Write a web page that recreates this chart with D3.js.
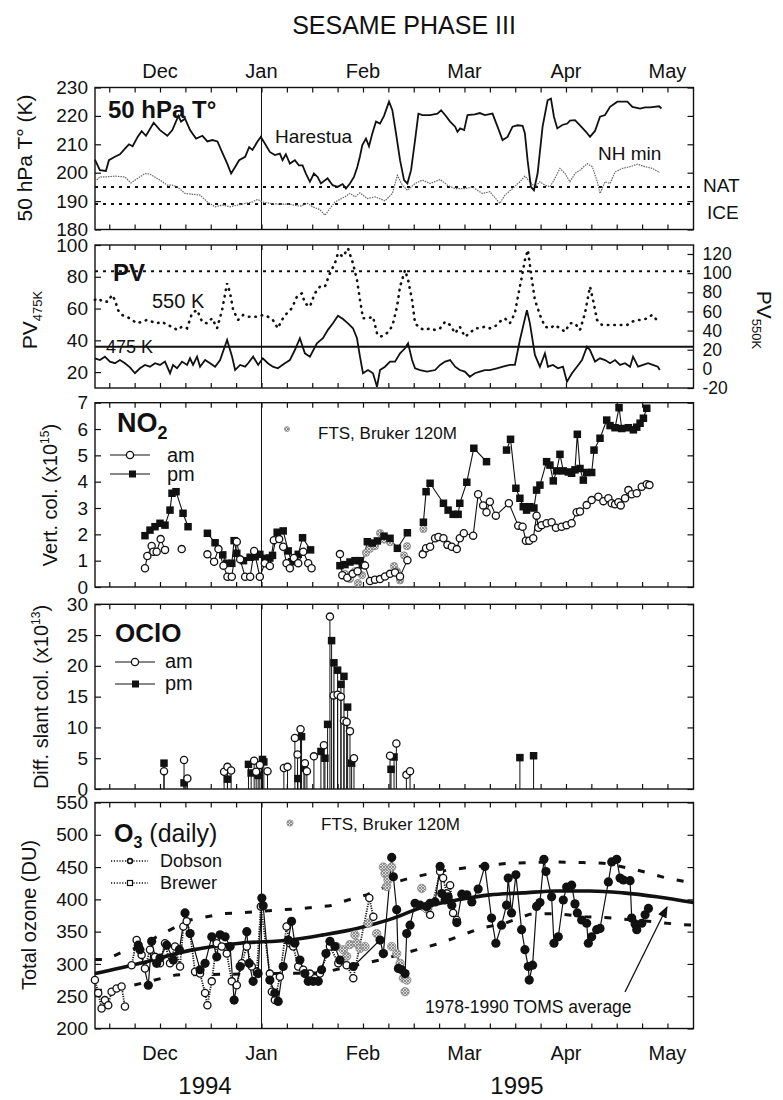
<!DOCTYPE html>
<html>
<head>
<meta charset="utf-8">
<script src="https://cdn.jsdelivr.net/npm/d3@7"></script>
<style>
body { margin: 0; background: #fff; }
svg text { font-family: "Liberation Sans", Arial, Helvetica, sans-serif; fill: #111; }
</style>
</head>
<body>
<svg id="chart" width="783" height="1100"></svg>
<script>

// x values are days counted from 1 Dec 1994 (months drawn evenly, 30.4 days each)
const months = ['Dec', 'Jan', 'Feb', 'Mar', 'Apr', 'May'];
const monthStarts = [0, 30.4, 60.8, 91.2, 121.6, 152];

//50 hPa temperature
const harestua = [[-19.5,204.6],[-18.0,200.9],[-16.2,200.6],[-15.3,204.4],[-13.5,205.6],[-12.0,206.5],[-10.5,208.5],[-9.3,210],[-8.2,209.3],[-6.7,212.6],[-5.5,214.6],[-4.2,213],[-1.9,217.6],[0,215],[2.2,213],[3.7,215],[5.5,220],[6.3,218],[7.5,219],[9.0,215],[10.8,212],[12.7,213],[14.2,211],[15.7,211.5],[17.2,211],[18.7,207],[20.2,203],[21.3,199.7],[22.5,202],[23.7,204.4],[25.5,205.6],[26.7,209],[27.7,208],[29.2,211],[30.2,212.6],[31.4,210.3],[32.9,207.3],[34.4,206.2],[35.9,206.7],[36.7,204.4],[37.7,206.5],[38.9,203.2],[40.4,204.4],[41.6,202.6],[42.7,202.6],[43.7,199.7],[44.9,196.8],[46.1,199.7],[47.2,198.5],[48.2,196.2],[50.2,198],[51.7,195.6],[53.2,195],[54.7,196],[55.7,194.4],[56.9,196.2],[58.1,198.5],[59.1,202],[59.9,205.8],[60.6,209.7],[61.7,212],[62.6,209.3],[63.6,213.8],[64.7,218],[65.9,217.3],[67.1,220],[68.6,225],[69.6,222],[70.7,213.8],[71.9,204.4],[73.1,197.4],[74.1,196.2],[75.2,200.9],[76.4,211.5],[77.4,220.8],[78.6,220.3],[80.9,220.3],[83.1,220.8],[84.2,222],[85.4,220.3],[86.9,218],[88.4,216.2],[89.1,214.4],[89.9,215.6],[91.1,215],[92.1,220.3],[94.3,220.5],[95.8,221],[97.3,220.3],[99.6,220.8],[101.1,216.2],[102.6,211.5],[104.1,212.6],[105.6,216.2],[107.1,216.7],[108.6,216.5],[109.3,213.8],[110.1,204.4],[111.1,195],[112.0,193.8],[113.1,199.7],[114.6,216.2],[116.1,225.5],[117.1,226.1],[118.0,219.7],[119.0,215.6],[120.5,216.8],[122.0,217.3],[122.8,218.3],[124.3,218.5],[125.8,216.7],[127.6,214.4],[128.8,212.6],[130.3,214.7],[131.8,219.7],[133.3,220.3],[134.8,223.2],[137.0,225],[140.0,225],[141.5,223.2],[143.8,222.6],[145.3,223],[146.8,223],[149.5,223.4],[150.2,222.6]];
const nhMin = [[-19.5,196.8],[-18,198.5],[-16.5,198.5],[-13.5,198.8],[-10.5,198.5],[-8.7,196.4],[-6.7,198],[-4.5,199.7],[-3,199.5],[0,197.4],[2.2,195.6],[3.7,195.6],[5.2,195],[7.5,192.7],[9.7,192.4],[12,192.1],[14.2,189.7],[16.5,188],[18.7,188.6],[21,188],[23.2,188.6],[25.5,189.2],[27.7,189.7],[29.2,190.6],[30.7,189.7],[32.9,189.2],[35.9,188.9],[38.9,188.9],[41.9,188.2],[44.2,189.2],[45.7,188],[47.9,187],[49.4,185],[50.9,187.4],[52.4,189.7],[53.9,190.6],[55.4,191.5],[56.9,192.7],[58.4,191.5],[59.9,192.9],[62.1,190.9],[64.4,191.5],[67.4,190.1],[69.6,192.7],[71.1,199.1],[72.6,195.6],[74.1,193.8],[76.4,196.2],[78.6,197.4],[80.9,196.2],[83.9,197.6],[86.1,195.6],[88.4,194.4],[91.3,194.4],[93.6,195],[95.1,193.8],[96.6,192.7],[98.8,193.3],[101.8,189.2],[103.3,192.1],[105.6,194.4],[107.8,196.8],[109.3,198.8],[110.8,196.8],[112.3,195],[113.8,196.8],[115.3,195.6],[116.8,195],[118.3,198],[119.8,201.5],[121.3,199.7],[122.8,196.8],[124.3,199.7],[125.8,200.9],[128,203.2],[129.5,202.1],[131,196.8],[131.8,192.7],[133.3,196.8],[134.8,196.2],[136.3,200.3],[138.5,201.5],[140.8,202.1],[143,203],[145.3,202.1],[147.5,201.5],[149.7,200]];
const natT = 195;
const iceT = 189;

//PV
const pv475 = [[-19.5,28.7],[-18,27.6],[-16.5,29.7],[-15,26.6],[-13.5,25.6],[-12,27.6],[-10.5,25.6],[-9,23],[-7.5,19.3],[-6,22.4],[-4.5,24.5],[-3,23.4],[-1.5,25.6],[0,24.5],[1.5,26.6],[3,19.3],[3.9,24.5],[5.1,22.4],[6.6,26.6],[8.1,24.5],[9,28.7],[9.9,24.5],[11.1,29.7],[12,23.4],[13.5,27.6],[15,25.6],[16.5,23.4],[18,27.6],[20.1,40.2],[21.6,29.7],[22.5,21.3],[24,24.5],[25.5,23.4],[26.4,25.6],[27.9,29.7],[29.4,24.5],[30.8,28.7],[32.3,25.6],[33.8,23.4],[35.3,22.4],[37.4,25.6],[38.9,27.6],[40.4,33.9],[41.9,41.3],[43.4,31.8],[44.9,29.7],[47,38.1],[48.8,41.3],[50.3,46.6],[51.8,50.8],[53.3,55.5],[54.8,53.4],[56.3,50.7],[57.8,47.6],[59,41.3],[59.9,29.7],[60.8,19.3],[62.3,21.3],[63.8,19.3],[65,10.8],[65.9,21.3],[67.4,23.4],[68.9,26.6],[70.4,26.6],[71.9,31.8],[73.4,35],[74.3,38.1],[75.5,27.6],[76.4,22.4],[77.9,21.3],[80,20.3],[82.4,21.3],[83.9,24.5],[85.4,26.6],[86.9,27.6],[88.4,23.4],[89.8,21.3],[91.3,20.3],[92.8,17.1],[94.3,19.3],[95.8,20.3],[97.3,21.3],[98.8,21.3],[100.9,22.4],[102.7,23.4],[104.8,24.5],[106.3,24.5],[107.8,40.2],[109.9,59],[110.8,50.7],[112.3,30.8],[113.8,23.4],[115.3,31.8],[116.2,23.4],[117.7,24.5],[119.2,22.4],[120.7,23.4],[121.9,14],[123.4,19.3],[124.9,23.4],[126.4,27.6],[127.9,36],[128.8,33.9],[130.3,26.6],[131.8,28.7],[133.3,27.6],[134.8,25.6],[136.3,27.6],[137.8,24.5],[139.3,25.6],[140.8,23.4],[141.7,29.7],[143.2,23.4],[144.7,24.5],[146.2,25.6],[147.6,24.5],[149.1,23.4],[149.7,21.3]];
const pv550 = [[-19.5,72],[-18.6,73.7],[-17.1,70.2],[-15.6,70.2],[-14.4,77.2],[-13.5,72],[-12.6,61.5],[-11.4,56.3],[-9.9,54.5],[-8.4,51.1],[-6.9,47.6],[-5.4,49.3],[-3.9,51.1],[-2.4,49.3],[-0.9,47.6],[0.6,49.3],[2.1,45.8],[3.6,44.1],[5.1,40.6],[6.6,44.1],[8.1,42.4],[9.6,58.1],[11.1,61.5],[12.6,49.3],[14.1,47.6],[15.6,52.8],[17.1,42.4],[18.6,61.5],[20.1,89.4],[21,79],[21.9,61.5],[23.4,51.1],[24.9,56.3],[26.4,54.5],[27.9,54.5],[29.4,54.5],[30.8,56.3],[32.3,54.5],[33.8,51.1],[35.3,42.4],[36.5,51.1],[38,58.1],[39.5,63.3],[41,75.4],[42.5,79],[43.4,68.5],[44.9,65],[46.4,79],[47.9,85.9],[49.4,85.9],[50.9,99.9],[52.4,110.3],[53.3,120.8],[54.8,117.2],[56.3,126],[57.8,110.3],[59,92.9],[59.9,72],[60.8,52.8],[62.3,52.8],[63.8,54.5],[65,37.2],[65.9,33.6],[67.4,35.4],[68.9,40.6],[69.8,47.6],[71,65],[71.9,85.9],[73.4,103.3],[74.3,92.9],[75.5,72],[76.4,47.6],[77.9,42.4],[79.4,40.6],[80.9,42.4],[82.4,40.6],[83.9,42.4],[85.4,49.3],[86.9,45.8],[88.4,37.2],[89.8,44.1],[91.3,33.6],[92.8,37.2],[94.3,42.4],[95.8,42.4],[97.3,44.1],[98.8,42.4],[100.3,44.1],[101.8,49.3],[103.3,52.8],[104.8,47.6],[106.3,58.1],[107.2,75.4],[108.4,96.3],[109.3,113.8],[110.2,124.2],[111.4,92.9],[112.3,72],[113.8,56.3],[115.3,44.1],[116.8,42.4],[118.3,45.8],[119.8,42.4],[121.3,38.8],[122.8,47.6],[124.3,47.6],[125.8,40.6],[127.3,58.1],[128.8,85.9],[129.7,72],[130.9,51.1],[132.4,45.8],[133.9,45.8],[135.4,45.8],[136.9,45.8],[138.4,45.8],[139.9,45.8],[141.4,49.3],[142.9,51.1],[144.4,51.1],[145.9,52.8],[147.4,56.3],[148.8,51.1]];
const pv475Ref = 36;
const pv550Ref = 102;

//NO2 vertical column (x1e15), null = gap
const no2Am = [[-4.5,0.71],[-3.8,1.18],[-2.5,1.56],[-2.0,1.34],[-1.0,1.34],[0.2,1.82],[1.5,1.41],null,[6.5,1.44],null,[14.2,1.24],[16.2,0.96],[17.5,1.44],[19.0,0.81],[20.2,0.39],[21.5,0.39],[23.0,1.72],[24.0,1.05],[25.5,0.39],[27.0,0.39],[28.2,1.37],[29.9,0.39],[31.4,0.9],[32.9,0.8],[34.1,1.78],[35.7,1.82],[36.9,1.53],[37.9,0.9],[38.9,0.71],[40.1,1.1],[41.4,0.9],[42.9,1.34],[44.4,0.9],[45.4,0.71],null,[53.9,1.25],[54.6,0.45],[56.1,0.35],[57.7,0.5],[59.2,0.6],[61.4,0.82],[62.9,0.23],[64.4,0.28],[65.9,0.3],[67.4,0.4],[68.9,0.5],[70.4,0.55],[71.9,0.4],[74.1,1.02],null,[78.7,1.24],[79.7,1.47],[80.9,1.53],[82.4,1.85],[83.4,1.9],[84.9,1.85],[86.1,1.6],[87.4,1.53],[88.9,1.44],[89.8,1.85],[91.0,2.04],[93.8,1.95],[95.3,3.52],[96.8,3.1],[97.8,2.84],[98.8,3.24],[100.6,2.71],[104.5,3.18],[107.3,2.33],[108.6,2.29],[109.6,1.76],[110.6,1.76],[111.8,1.85],[112.8,2.71],[113.3,2.25],[114.3,2.35],[115.8,2.42],[117.3,2.46],[118.6,2.25],[120.3,2.29],[121.8,2.35],[123.3,2.42],[124.8,2.84],[125.8,2.87],[127.8,3.11],[129.3,3.3],[131.3,3.43],[132.8,3.26],[134.3,3.37],[135.3,3.18],[136.3,3.14],[137.3,3.22],[138.0,3.1],[139.3,3.37],[140.3,3.68],[141.3,3.52],[142.8,3.56],[144.3,3.81],[145.8,3.9],[146.6,3.87]];
const no2Pm = [[-4.5,1.95],[-3.0,2.16],[-1.5,2.29],[0,2.42],[1.5,2.35],[3.0,2.92],[3.6,3.56],[4.8,3.62],[6.9,2.8],[8.4,2.29],null,[14.2,2.04],[16.5,1.68],[18.8,1.22],[20.0,0.9],[21.5,0.9],[22.2,1.76],[23.0,1.28],[25.0,1.0],[27.0,1.13],[28.5,1.15],[29.9,1.24],[31.4,1.09],[32.9,1.1],[33.7,1.2],[35.1,2.08],[36.9,2.13],[38.4,1.37],[39.4,0.96],[40.4,1.1],[41.4,1.24],[42.7,1.87],[45.1,1.41],null,[53.9,0.81],[55.4,0.85],[56.9,0.95],[58.4,1.0],[59.9,1.0],[60.6,0.85],[62.1,1.72],[63.6,1.67],[65.1,1.75],[67.1,1.93],[68.9,1.85],[71.1,1.47],[74.1,2.06],null,[78.9,2.46],[79.7,3.62],[80.9,3.94],[84.9,3.18],[86.3,2.92],[87.8,2.76],[89.3,2.76],[89.8,3.18],[91.9,3.98],[94.0,5.27],[97.8,4.76],null,[103.8,5.2],[105.0,5.61],[106.6,3.75],[107.8,3.37],[108.8,3.05],[109.8,2.92],[110.8,3.05],[112.0,3.0],[112.8,3.68],[113.8,3.87],[115.8,4.76],[116.8,4.63],[117.8,4.03],[118.8,4.41],[119.8,5.04],[120.8,4.41],[122.3,4.37],[123.3,4.32],[124.3,4.45],[125.0,5.8],[125.8,4.5],[126.8,4.06],[127.8,4.35],[129.3,4.35],[130.0,5.2],[131.8,5.65],[133.8,6.34],[134.8,6.13],[136.3,6.05],[137.5,6.81],[138.3,6.02],[140.3,6.05],[141.8,5.97],[142.8,6.07],[143.8,6.22],[144.8,6.41],[145.8,6.79]];
const no2Fts = [[55.4,0.5],[56.9,0.3],[58.4,0.6],[59.3,0.15],[60.5,0.45],[61.7,1.3],[62.9,1.45],[64.4,1.55],[65.9,2.05],[67.1,1.8],[68.9,1.7],[70.1,0.8],[71.0,0.6],[71.9,0.25],[73.1,1.2],[74.0,1.55],[78.9,2.2],[78.9,1.3]];

//OClO differential slant column (x1e13)
const ocloAm = [[1.2,2.9],[7.2,4.7],[8.2,1.7],[19.2,2.8],[20.2,3.6],[21.3,3.0],[28.2,4.6],[28.8,2.8],[29.9,3.9],[32.2,2.9],[37.1,3.4],[38.2,3.6],[40.4,8.3],[41.2,5.6],[42.1,9.7],[43.4,4.2],[44.0,2.9],[46.1,5.3],[49.1,7.1],[50.9,28.0],[52.0,15.2],[53.2,15.3],[54.2,15.0],[55.1,11.1],[55.9,10.9],[56.9,9.4],[58.1,5.0],[68.9,5.4],[70.8,7.4],[73.8,2.3],[74.9,2.9]];
const ocloPm = [[1.2,4.2],[7.2,1.0],[20.2,1.6],[26.5,4.0],[27.3,2.6],[29.4,2.2],[30.7,4.8],[31.1,4.4],[41.3,1.7],[42.4,8.5],[43.1,3.4],[48.2,6.1],[49.4,5.0],[50.2,10.5],[51.4,24.1],[52.1,20.5],[53.2,19.3],[54.2,17.0],[55.1,18.3],[56.2,13.3],[57.4,4.2],[69.2,3.2],[70.1,5.2],[107.8,5.1],[111.9,5.4]];

//Total ozone (DU)
const o3Dobson = [[-6.5,329],[-6.0,322],[-3.5,267],[-2.5,335],[-1.0,301],[0,309],[2.0,329],[4.0,306],[5.8,322],[7.5,379],[9.0,347],[12.0,291],[13.5,301],[15.5,342],[17.0,311],[18.0,345],[19.5,342],[21.0,327],[22.2,244],[24.0,296],[26.0,350],[26.7,301],[27.9,273],[29.4,285],[30.5,402],[30.9,390],[32.9,275],[34.4,255],[35.4,242],[36.9,296],[38.4,337],[39.4,366],[40.4,332],[41.9,306],[43.4,285],[44.4,273],[45.9,273],[47.4,273],[48.4,291],[49.7,316],[50.9,335],[52.4,327],[53.9,306],[57.9,296],[65.9,337],[66.9,316],[69.4,465],[69.9,435],[70.9,384],[71.4,293],[72.4,291],[73.4,285],[73.9,347],[74.9,360],[76.4,394],[77.9,391],[79.9,389],[80.9,394],[82.4,396],[83.9,451],[84.4,409],[85.4,399],[86.3,404],[87.4,391],[88.9,364],[90.4,408],[91.9,407],[93.4,396],[95.3,416],[97.3,451],[99.3,371],[100.6,332],[102.3,360],[103.8,391],[104.3,433],[105.3,379],[106.6,438],[108.3,353],[109.3,322],[110.3,296],[110.6,275],[111.6,298],[112.8,389],[113.8,395],[115.0,462],[115.6,443],[117.3,404],[118.0,332],[119.3,342],[120.8,399],[121.8,419],[123.3,422],[124.3,393],[125.0,379],[126.3,368],[127.8,363],[128.3,332],[129.3,342],[130.8,353],[131.8,355],[134.3,427],[135.3,458],[136.8,462],[137.8,433],[138.8,430],[140.8,429],[141.3,371],[142.3,362],[142.8,353],[144.3,363],[145.3,376],[146.3,386]];
const o3Brewer = [[-19.5,275],[-18.5,255],[-17.5,231],[-16.5,244],[-15.5,236],[-14.5,257],[-13.0,262],[-11.5,265],[-10.5,234],null,[-8.5,298],[-7.0,337],[-5.5,314],[-4.5,293],[-3.0,322],[-1.5,311],[0,301],[1.5,332],[3.0,301],[4.5,327],[6.0,296],[7.0,358],[8.0,366],[9.0,347],[10.5,288],[12.0,285],[13.5,255],[14.2,236],[15.5,273],[17.0,332],[18.5,327],[20.0,316],[21.5,273],[23.0,267],[24.5,301],[26.0,327],[27.5,296],[29.0,288],[30.2,389],[32.9,285],[33.5,257],[34.4,244],[35.9,280],[37.9,358],[38.9,332],[39.9,327],[41.4,296],[42.9,291],[44.9,285],[46.4,278],[47.9,285],[50.9,327],[53.4,301],[55.9,298],[57.9,278],[62.7,402],[63.9,373],null,[79.9,389],[80.9,376],[83.9,443],[84.8,433],[85.9,409],[86.9,422],[87.8,379],[88.9,368]];
const o3Fts = [[52.9,327],[54.9,322],[55.9,312],[56.9,330],[58.4,345],[58.9,332],[59.9,324],[61.4,327],[62.4,363],[64.9,347],[66.9,316],[66.9,450],[67.4,440],[67.9,420],[68.3,430],[69.4,450],[69.4,327],[70.9,316],[71.9,301],[72.9,278],[73.4,257],[73.9,275],[78.4,417],[78.9,389],[79.9,385]];
const tomsAvg = [[-19.5,285],[-6.0,301],[9.0,321],[24.0,332],[38.9,337],[48.8,345],[59.0,355],[68.9,369],[78.8,388],[88.9,399],[98.8,407],[108.7,410],[118.9,413],[128.8,413],[138.7,410],[148.8,404],[159.8,395]];
const tomsHigh = [[-19.5,307],[-16,307],[-11.1,319],[-6.0,326],[-1.0,342],[3.9,355],[9.0,368],[14.0,373],[18.9,378],[24.0,379],[29.0,381],[35.0,383.5],[40.9,385],[50.9,390],[56.3,399],[61.9,407],[70.9,427],[74.9,433],[80.9,440],[86.3,445.5],[91.9,449],[98.8,453],[104.8,456],[110.8,457],[118.8,458],[126.7,457],[132.8,456],[140.8,448],[146.2,441],[151.7,433],[159.8,425]];
const tomsLow = [[-19.5,259],[-13.5,260],[4.8,283],[48.5,286],[55,294],[65.9,306],[74.9,319],[83.9,332],[95.8,355],[103.3,363],[110.8,377],[118.3,378],[127.3,373],[133.3,372],[145.3,366.5],[155.8,361],[159.8,360]];


const FONT = '"Liberation Sans", Arial, Helvetica, sans-serif';
const svg = d3.select('#chart');

const left = 95;
const right = 693.5;
const x = d3.scaleLinear().domain([-19.47, 159.8]).range([left, right]);
const xTicks = d3.range(-15.2, 158, 7.6);
const janDay = monthStarts[1];

//Scales
const yT = d3.scaleLinear().domain([180, 230]).range([229.5, 87.5]);
const yPV = d3.scaleLinear().domain([10, 100]).range([388, 245]);
const yPV550 = d3.scaleLinear().domain([-20, 129.4]).range([388, 245]);
const yNO2 = d3.scaleLinear().domain([0, 7]).range([587, 402.7]);
const yOClO = d3.scaleLinear().domain([0, 30]).range([789, 604.3]);
const yO3 = d3.scaleLinear().domain([200, 550]).range([1028.5, 802.5]);

const fmt = d => String(d);

const drawPanel = (y, leftTicks, rightScale, rightTicks, rightLabels) => {
    const top = y.range()[1];
    const bottom = y.range()[0];
    const g = svg.append('g');

    g.append('g').attr('transform', `translate(0,${top})`)
        .call(d3.axisBottom(x).tickValues(xTicks).tickSize(5).tickFormat(''));
    g.append('g').attr('transform', `translate(0,${bottom})`)
        .call(d3.axisTop(x).tickValues(xTicks).tickSize(5).tickFormat(''));
    g.append('g').attr('transform', `translate(${left},0)`)
        .attr('font-size', 19)
        .call(d3.axisLeft(y).tickValues(leftTicks).tickSizeInner(-6).tickSizeOuter(0).tickPadding(7).tickFormat(fmt))
        .attr('font-size', 19);
    g.append('g').attr('transform', `translate(${right},0)`)
        .call(d3.axisRight(rightScale || y).tickValues(rightTicks || leftTicks)
            .tickSizeInner(-6).tickSizeOuter(0).tickPadding(9).tickFormat(rightLabels ? fmt : ''))
        .attr('font-size', 17.5);

    g.selectAll('.domain').remove();
    g.selectAll('.tick line').attr('stroke', '#111').attr('stroke-width', 1.2);
    g.selectAll('g').attr('font-family', FONT);
    g.selectAll('.tick text').attr('fill', '#111');

    g.append('line')
        .attr('x1', x(janDay)).attr('x2', x(janDay))
        .attr('y1', top).attr('y2', bottom)
        .attr('stroke', '#111').attr('stroke-width', 1);

    g.append('rect')
        .attr('x', left).attr('y', top)
        .attr('width', right - left).attr('height', bottom - top)
        .attr('fill', 'none').attr('stroke', '#111').attr('stroke-width', 1.4);
    return g;
};

const lineGen = y => d3.line().defined(d => d !== null).x(d => x(d[0])).y(d => y(d[1]));

const addText = (txt, px, py, size, opts = {}) => {
    const t = svg.append('text')
        .attr('x', px).attr('y', py)
        .attr('font-size', size)
        .attr('text-anchor', opts.anchor || 'start')
        .attr('font-weight', opts.bold ? 'bold' : null)
        .attr('fill', opts.color || '#111')
        .text(txt);
    if (opts.rotate) t.attr('transform', `rotate(${opts.rotate},${px},${py})`);
    return t;
};

const hline = (y, val, dash, width) => {
    svg.append('line')
        .attr('x1', left).attr('x2', right)
        .attr('y1', y(val)).attr('y2', y(val))
        .attr('stroke', '#111').attr('stroke-width', width)
        .attr('stroke-dasharray', dash);
};

const openCircles = (data, y, r) => {
    svg.append('g').selectAll('circle').data(data.filter(d => d !== null)).enter().append('circle')
        .attr('cx', d => x(d[0])).attr('cy', d => y(d[1])).attr('r', r)
        .attr('fill', '#fff').attr('stroke', '#111').attr('stroke-width', 1.3);
};
const filledSquares = (data, y, s) => {
    svg.append('g').selectAll('rect').data(data.filter(d => d !== null)).enter().append('rect')
        .attr('x', d => x(d[0]) - s / 2).attr('y', d => y(d[1]) - s / 2)
        .attr('width', s).attr('height', s).attr('fill', '#111');
};
const ftsMarks = (data, y, r) => {
    svg.append('g').selectAll('circle').data(data).enter().append('circle')
        .attr('cx', d => x(d[0])).attr('cy', d => y(d[1])).attr('r', r)
        .attr('fill', 'url(#hatch)').attr('stroke', '#888').attr('stroke-width', 0.8);
};

//hatch pattern for the FTS points
const defs = svg.append('defs');
const pat = defs.append('pattern').attr('id', 'hatch')
    .attr('patternUnits', 'userSpaceOnUse').attr('width', 3).attr('height', 3);
pat.append('rect').attr('width', 3).attr('height', 3).attr('fill', '#ddd');
pat.append('path').attr('d', 'M0,3 L3,0 M0,0 L3,3').attr('stroke', '#777').attr('stroke-width', 0.8);
defs.append('marker').attr('id', 'arrow').attr('viewBox', '0 0 10 10')
    .attr('refX', 9).attr('refY', 5).attr('markerWidth', 9).attr('markerHeight', 9)
    .attr('orient', 'auto-start-reverse')
    .append('path').attr('d', 'M0,1 L10,5 L0,9 z').attr('fill', '#111');


//Title and month labels
addText('SESAME PHASE III', 404, 34, 25, { anchor: 'middle' });
months.forEach((m, i) => {
    addText(m, x(monthStarts[i]), 78, 20, { anchor: 'middle' });
    addText(m, x(monthStarts[i]), 1060, 20, { anchor: 'middle' });
});
addText('1994', 205, 1094, 24, { anchor: 'middle' });
addText('1995', 517, 1094, 24, { anchor: 'middle' });


//Panel 1: temperature
drawPanel(yT, d3.range(180, 231, 10));
hline(yT, natT, '3,5', 2);
hline(yT, iceT, '3,5', 2);
svg.append('path').datum(nhMin).attr('d', lineGen(yT))
    .attr('fill', 'none').attr('stroke', '#666').attr('stroke-width', 1.2).attr('stroke-dasharray', '1.5,1');
svg.append('path').datum(harestua).attr('d', lineGen(yT))
    .attr('fill', 'none').attr('stroke', '#111').attr('stroke-width', 1.8);
addText('50 hPa T°', 108, 118, 24, { bold: true });
addText('Harestua', 275, 143, 19);
addText('NH min', 598, 160, 19, { color: '#8a8a8a' });
addText('NAT', 703, 192, 19);
addText('ICE', 707, 219, 19);
addText('50 hPa T° (K)', 32, 158, 21, { anchor: 'middle', rotate: -90 });


//Panel 2: PV
drawPanel(yPV, [20, 40, 60, 80, 100], yPV550, d3.range(-20, 121, 20), true);
hline(yPV550, pv550Ref, '3,5', 2);
hline(yPV, pv475Ref, null, 2);
svg.append('path').datum(pv550).attr('d', lineGen(yPV550))
    .attr('fill', 'none').attr('stroke', '#111').attr('stroke-width', 2.6)
    .attr('stroke-linecap', 'round').attr('stroke-dasharray', '0.5,6');
svg.append('path').datum(pv475).attr('d', lineGen(yPV))
    .attr('fill', 'none').attr('stroke', '#111').attr('stroke-width', 1.8);
addText('PV', 113, 281, 24, { bold: true });
addText('550 K', 152, 308, 20);
addText('475 K', 106, 353, 18);
const pvl = addText('PV', 37, 320, 21, { anchor: 'middle', rotate: -90 });
pvl.append('tspan').attr('font-size', 13).attr('dy', 5).text('475K');
const pvr = addText('PV', 757, 320, 21, { anchor: 'middle', rotate: 90 });
pvr.append('tspan').attr('font-size', 13).attr('dy', 5).text('550K');


//Panel 3: NO2
drawPanel(yNO2, d3.range(0, 8, 1));
svg.append('path').datum(no2Am).attr('d', lineGen(yNO2))
    .attr('fill', 'none').attr('stroke', '#111').attr('stroke-width', 1.1);
svg.append('path').datum(no2Pm).attr('d', lineGen(yNO2))
    .attr('fill', 'none').attr('stroke', '#111').attr('stroke-width', 1.1);
ftsMarks(no2Fts, yNO2, 3.6);
filledSquares(no2Pm, yNO2, 7.5);
openCircles(no2Am, yNO2, 3.6);
const no2t = addText('NO', 117, 432, 27, { bold: true });
no2t.append('tspan').attr('font-size', 18).attr('dy', 7).text('2');
addText('am', 167, 462, 20);
addText('pm', 167, 481, 20);
svg.append('line').attr('x1', 110).attr('x2', 150).attr('y1', 455).attr('y2', 455).attr('stroke', '#111');
svg.append('line').attr('x1', 110).attr('x2', 150).attr('y1', 474).attr('y2', 474).attr('stroke', '#111');
svg.append('circle').attr('cx', 130).attr('cy', 455).attr('r', 3.6).attr('fill', '#fff').attr('stroke', '#111').attr('stroke-width', 1.3);
svg.append('rect').attr('x', 129).attr('y', 470.5).attr('width', 7).attr('height', 7).attr('fill', '#111');
svg.append('circle').attr('cx', 287).attr('cy', 429).attr('r', 2.6).attr('fill', 'url(#hatch)').attr('stroke', '#888').attr('stroke-width', 0.6);
addText('FTS, Bruker 120M', 318, 439, 17);
const no2y = addText('Vert. col. (x10', 57, 495, 20, { anchor: 'middle', rotate: -90 });
no2y.append('tspan').attr('font-size', 12).attr('dy', -8).text('15');
no2y.append('tspan').attr('dy', 8).text(')');


//Panel 4: OClO
drawPanel(yOClO, d3.range(0, 31, 5));
svg.append('g').selectAll('line').data(ocloAm.concat(ocloPm)).enter().append('line')
    .attr('x1', d => x(d[0])).attr('x2', d => x(d[0]))
    .attr('y1', yOClO(0)).attr('y2', d => yOClO(d[1]))
    .attr('stroke', '#111').attr('stroke-width', 1);
filledSquares(ocloPm, yOClO, 7.5);
openCircles(ocloAm, yOClO, 3.6);
addText('OClO', 115, 642, 26, { bold: true });
addText('am', 165, 668, 20);
addText('pm', 165, 690, 20);
svg.append('line').attr('x1', 115).attr('x2', 155).attr('y1', 662).attr('y2', 662).attr('stroke', '#111');
svg.append('line').attr('x1', 115).attr('x2', 155).attr('y1', 684).attr('y2', 684).attr('stroke', '#111');
svg.append('circle').attr('cx', 135).attr('cy', 662).attr('r', 3.6).attr('fill', '#fff').attr('stroke', '#111').attr('stroke-width', 1.3);
svg.append('rect').attr('x', 132).attr('y', 680.5).attr('width', 7).attr('height', 7).attr('fill', '#111');
const ocloy = addText('Diff. slant col. (x10', 48, 697, 20, { anchor: 'middle', rotate: -90 });
ocloy.append('tspan').attr('font-size', 12).attr('dy', -8).text('13');
ocloy.append('tspan').attr('dy', 8).text(')');


//Panel 5: O3
drawPanel(yO3, d3.range(200, 551, 50));
svg.append('path').datum(tomsHigh).attr('d', lineGen(yO3))
    .attr('fill', 'none').attr('stroke', '#111').attr('stroke-width', 3).attr('stroke-dasharray', '7,13');
svg.append('path').datum(tomsLow).attr('d', lineGen(yO3))
    .attr('fill', 'none').attr('stroke', '#111').attr('stroke-width', 3).attr('stroke-dasharray', '7,13');
svg.append('path').datum(tomsAvg).attr('d', lineGen(yO3).curve(d3.curveMonotoneX))
    .attr('fill', 'none').attr('stroke', '#111').attr('stroke-width', 3.6);
svg.append('path').datum(o3Brewer).attr('d', lineGen(yO3))
    .attr('fill', 'none').attr('stroke', '#111').attr('stroke-width', 1.8).attr('stroke-dasharray', '1.2,1.2');
svg.append('path').datum(o3Dobson).attr('d', lineGen(yO3))
    .attr('fill', 'none').attr('stroke', '#111').attr('stroke-width', 1.2);
ftsMarks(o3Fts, yO3, 4.2);
openCircles(o3Brewer, yO3, 3.6);
svg.append('g').selectAll('circle').data(o3Dobson).enter().append('circle')
    .attr('cx', d => x(d[0])).attr('cy', d => yO3(d[1])).attr('r', 4.6).attr('fill', '#111');

const o3t = addText('O', 114, 842, 25, { bold: true });
o3t.append('tspan').attr('font-size', 16).attr('dy', 6).text('3');
o3t.append('tspan').attr('font-weight', 'normal').attr('dy', -6).text(' (daily)');
svg.append('line').attr('x1', 111).attr('x2', 148).attr('y1', 861).attr('y2', 861)
    .attr('stroke', '#111').attr('stroke-width', 1.4).attr('stroke-dasharray', '1.2,1.6');
svg.append('line').attr('x1', 111).attr('x2', 148).attr('y1', 883).attr('y2', 883)
    .attr('stroke', '#111').attr('stroke-width', 1.4).attr('stroke-dasharray', '1.2,1.6');
svg.append('circle').attr('cx', 130).attr('cy', 861).attr('r', 2.4).attr('fill', '#fff').attr('stroke', '#111').attr('stroke-width', 1.6);
svg.append('rect').attr('x', 127.5).attr('y', 880.5).attr('width', 5).attr('height', 5).attr('fill', '#fff').attr('stroke', '#111').attr('stroke-width', 1.2);
addText('Dobson', 160, 867, 18);
addText('Brewer', 160, 889, 18);
svg.append('circle').attr('cx', 290).attr('cy', 823).attr('r', 3.2).attr('fill', 'url(#hatch)').attr('stroke', '#888').attr('stroke-width', 0.6);
addText('FTS, Bruker 120M', 321, 830, 17);
addText('1978-1990 TOMS average', 425, 1013, 17.5);
svg.append('line').attr('x1', 625).attr('y1', 992).attr('x2', 667).attr('y2', 907)
    .attr('stroke', '#111').attr('stroke-width', 1.3).attr('marker-end', 'url(#arrow)');
addText('Total ozone (DU)', 36, 915, 20, { anchor: 'middle', rotate: -90 });

</script>
</body>
</html>
